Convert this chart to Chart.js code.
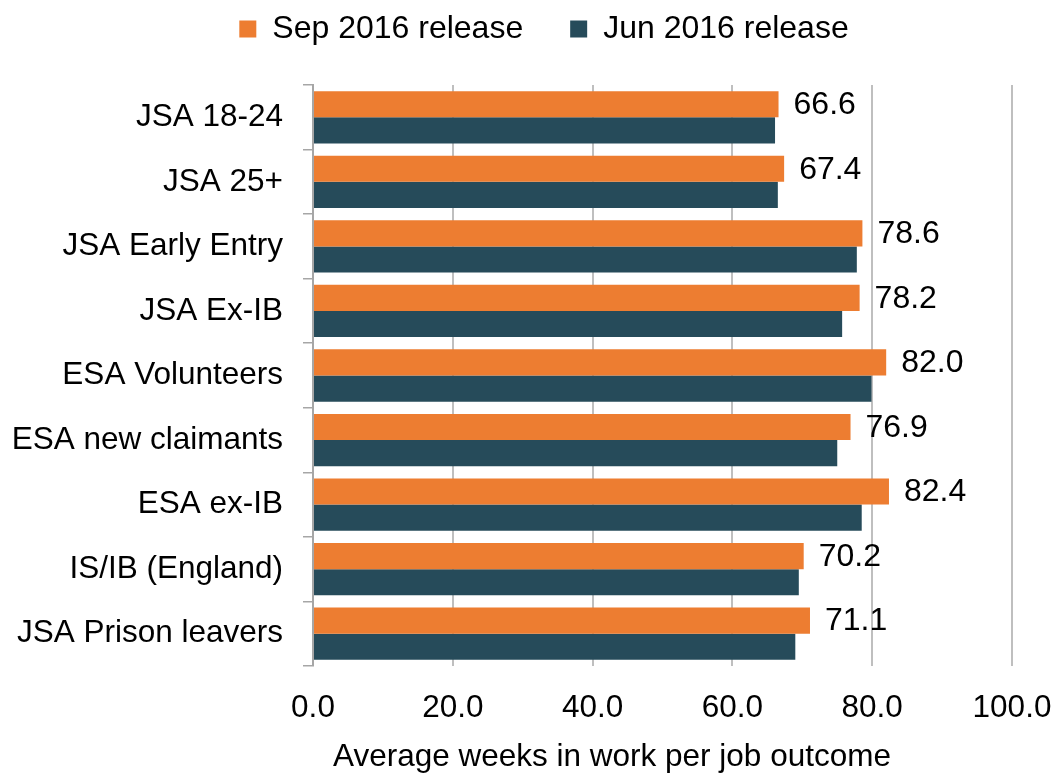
<!DOCTYPE html>
<html>
<head>
<meta charset="utf-8">
<script src="https://cdn.jsdelivr.net/npm/chart.js@4"></script>
<style>
  html, body { margin: 0; padding: 0; background: #ffffff; }
  #wrap { width: 1055px; height: 776px; }
</style>
</head>
<body>
<div id="wrap"><canvas id="c" width="1055" height="776"></canvas></div>
<script>
const categories = ['JSA 18-24', 'JSA 25+', 'JSA Early Entry', 'JSA Ex-IB', 'ESA Volunteers', 'ESA new claimants', 'ESA ex-IB', 'IS/IB (England)', 'JSA Prison leavers'];
const sepRelease = [66.6, 67.4, 78.6, 78.2, 82.0, 76.9, 82.4, 70.2, 71.1];
const junRelease = [66.1, 66.5, 77.8, 75.7, 79.9, 75.0, 78.5, 69.5, 69.0];
const seriesNames = ['Sep 2016 release', 'Jun 2016 release'];
const xTicks = [0, 20, 40, 60, 80, 100];
const axisTitle = 'Average weeks in work per job outcome';

const FONT = '"Liberation Sans", Arial, sans-serif';
const ORANGE = '#ED7D31';
const DARK = '#264B5A';

const layoutTweaks = {
  id: 'layoutTweaks',
  beforeUpdate(chart) {
    const lg = chart.legend;
    if (lg && !lg._fixed) {
      const origFit = lg.fit;
      lg.fit = function () { origFit.call(this); this.height = 85; };
      lg._fixed = true;
    }
  },
  afterLayout(chart) {
    const lg = chart.legend;
    if (lg) { lg.left += 38; lg.right += 38; lg.top -= 34; }
  },
  beforeDraw(chart) {
    const s = chart.scales.x;
    if (s && !s._titleShift) {
      const orig = s.drawTitle;
      s.drawTitle = function () { const l = this.left; this.left = l + 20; orig.call(this); this.left = l; };
      s._titleShift = true;
    }
  }
};

const valueLabels = {
  id: 'valueLabels',
  afterDatasetsDraw(chart) {
    const ctx = chart.ctx;
    const meta = chart.getDatasetMeta(0);
    ctx.save();
    ctx.font = '32px ' + FONT;
    ctx.fillStyle = '#000000';
    ctx.textAlign = 'left';
    ctx.textBaseline = 'middle';
    meta.data.forEach((bar, i) => {
      ctx.fillText(sepRelease[i].toFixed(1), bar.x + 15, bar.y + 1);
    });
    ctx.restore();
  }
};

new Chart(document.getElementById('c'), {
  type: 'bar',
  data: {
    labels: categories,
    datasets: [
      { label: seriesNames[0], data: sepRelease, backgroundColor: ORANGE, borderWidth: 0,
        categoryPercentage: 0.81, barPercentage: 1.0 },
      { label: seriesNames[1], data: junRelease, backgroundColor: DARK, borderWidth: 0,
        categoryPercentage: 0.81, barPercentage: 1.0 }
    ]
  },
  options: {
    indexAxis: 'y',
    responsive: false,
    animation: false,
    layout: { padding: { left: 0, right: 43, top: 0, bottom: 0 } },
    plugins: {
      legend: {
        display: true,
        position: 'top',
        labels: {
          color: '#000000',
          font: { family: FONT, size: 32 },
          boxWidth: 17,
          boxHeight: 17,
          padding: 47
        }
      },
      tooltip: { enabled: false }
    },
    scales: {
      x: {
        min: 0,
        max: 100,
        afterBuildTicks(scale) { scale.ticks = xTicks.map(v => ({ value: v })); },
        afterFit(scale) {
          scale.height = 110;
          scale.paddingLeft = 0; scale.paddingRight = 0;
        },
        ticks: {
          color: '#000000',
          font: { family: FONT, size: 31.5 },
          padding: 23,
          callback: v => Number(v).toFixed(1),
          maxRotation: 0
        },
        grid: { color: '#BFBFBF', lineWidth: 2, drawTicks: false },
        border: { display: false },
        title: {
          display: true,
          text: axisTitle,
          align: 'start',
          color: '#000000',
          font: { family: FONT, size: 31.5 },
          padding: { top: 12, bottom: 0 }
        }
      },
      y: {
        afterFit(scale) {
          scale.width = 313;
          scale.paddingTop = 0; scale.paddingBottom = 0;
        },
        ticks: {
          color: '#000000',
          font: { family: FONT, size: 31.5 },
          padding: 20
        },
        grid: { display: true, drawOnChartArea: false, drawTicks: true, tickLength: 10,
                color: '#A6A6A6', lineWidth: 1.5, offset: true },
        border: { display: true, color: '#A6A6A6', width: 2 }
      }
    }
  },
  plugins: [layoutTweaks, valueLabels]
});
</script>
</body>
</html>
